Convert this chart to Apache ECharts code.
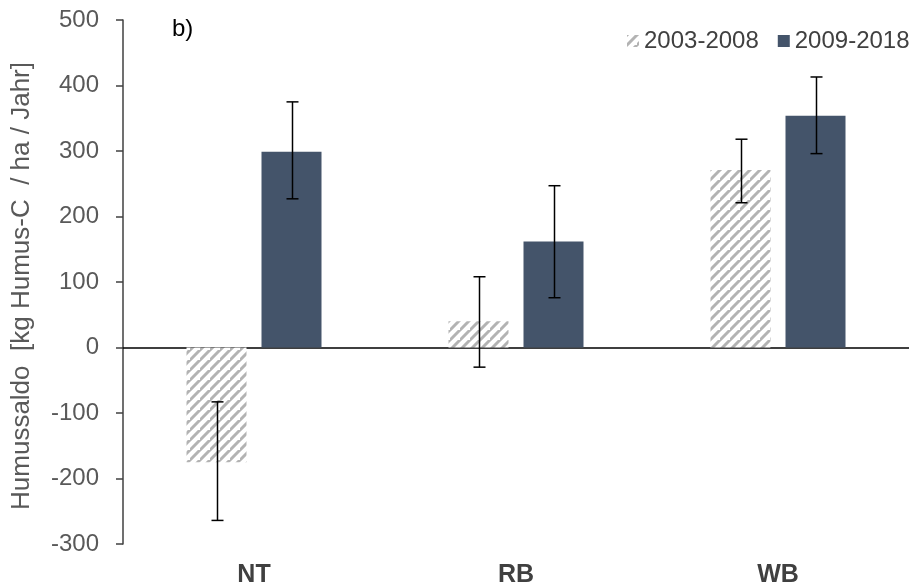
<!DOCTYPE html>
<html><head><meta charset="utf-8">
<script src="https://cdn.jsdelivr.net/npm/echarts@6/dist/echarts.min.js"></script>
<style>html,body{margin:0;padding:0;background:#fff}#c{width:909px;height:588px}</style>
</head><body><div id="c"></div>
<script>
const categories = ['NT', 'RB', 'WB'];
const seriesNames = ['2003-2008', '2009-2018'];
const values2003 = [-175, 40, 271];
const values2009 = [299, 162, 354];
const errLow2003 = [-264, -30, 221];
const errHigh2003 = [-83, 108, 318];
const errLow2009 = [227, 76, 296];
const errHigh2009 = [375, 247, 413];
const yTicks = [-300, -200, -100, 0, 100, 200, 300, 400, 500];

function hatch() {
  const s = 10, c = document.createElement('canvas');
  c.width = s; c.height = s;
  const g = c.getContext('2d');
  g.fillStyle = '#fff'; g.fillRect(0, 0, s, s);
  g.strokeStyle = '#b3b3b3'; g.lineWidth = 3;
  g.beginPath();
  g.moveTo(-2, s + 2); g.lineTo(s + 2, -2);
  g.moveTo(-2 - s, s + 2); g.lineTo(2, -2);
  g.moveTo(s - 2, 2 * s + 2); g.lineTo(2 * s + 2, s - 2);
  g.stroke();
  return c;
}
const pattern = { image: hatch(), repeat: 'repeat' };
const dark = '#44546a';
const FONT = 'Liberation Sans, Arial, sans-serif';

function errSeries(low, high, offset) {
  return {
    type: 'custom', xAxisIndex: 0, silent: true, z: 10,
    data: categories.map((c, i) => [i, low[i], high[i]]),
    renderItem(params, api) {
      const lo = api.coord([api.value(0), api.value(1)]);
      const hi = api.coord([api.value(0), api.value(2)]);
      const x = Math.round(lo[0] + offset) + 0.5;
      const w = 6;
      const st = { stroke: '#000', lineWidth: 1.5 };
      return { type: 'group', children: [
        { type: 'line', shape: { x1: x, y1: lo[1], x2: x, y2: hi[1] }, style: st },
        { type: 'line', shape: { x1: x - w, y1: lo[1], x2: x + w, y2: lo[1] }, style: st },
        { type: 'line', shape: { x1: x - w, y1: hi[1], x2: x + w, y2: hi[1] }, style: st }
      ]};
    }
  };
}

const chart = echarts.init(document.getElementById('c'));
chart.setOption({
  animation: false,
  textStyle: { fontFamily: FONT },
  grid: { left: 123, top: 20, width: 797, height: 525, containLabel: false },
  legend: {
    orient: 'horizontal', top: 29, left: 627, width: 500, padding: 0,
    itemWidth: 12, itemHeight: 12, itemGap: 19,
    textStyle: { fontSize: 24, color: '#404040' },
    data: seriesNames.map(n => ({ name: n, icon: 'rect' }))
  },
  graphic: [
    { type: 'text', left: 172, top: 17, style: { text: 'b)', fontSize: 24, fill: '#000', fontFamily: FONT } },
    { type: 'text', x: 22, y: 286, rotation: Math.PI / 2, style: { text: 'Humussaldo  [kg Humus-C  / ha / Jahr]', fontSize: 26, fill: '#595959', align: 'center', verticalAlign: 'middle', fontFamily: FONT } }
  ],
  xAxis: [
    { type: 'category', data: categories, position: 'bottom',
      axisLine: { show: true, onZero: true, lineStyle: { color: '#000', width: 1.5 } },
      axisTick: { show: false }, axisLabel: { show: false } },
    { type: 'category', data: categories, position: 'bottom', offset: 0,
      axisLine: { show: false, onZero: false }, axisTick: { show: false },
      axisLabel: { margin: 19, fontSize: 25, fontWeight: 'bold', color: '#404040' } }
  ],
  yAxis: {
    type: 'value', min: -300, max: 500, interval: 100,
    axisLine: { show: true, lineStyle: { color: '#404040', width: 1.5 } },
    axisTick: { show: true, length: 7, lineStyle: { color: '#404040', width: 1.5 } },
    splitLine: { show: false },
    axisLabel: { fontSize: 24, color: '#595959', margin: 24,
      formatter: v => yTicks.includes(v) ? String(v) : '' }
  },
  series: [
    { name: seriesNames[0], type: 'bar', data: values2003, barWidth: 60, barGap: '25%',
      itemStyle: { color: pattern } },
    { name: seriesNames[1], type: 'bar', data: values2009, barWidth: 60, barGap: '25%',
      itemStyle: { color: dark } },
    errSeries(errLow2003, errHigh2003, -37.5),
    errSeries(errLow2009, errHigh2009, 37.5)
  ]
});
</script></body></html>
